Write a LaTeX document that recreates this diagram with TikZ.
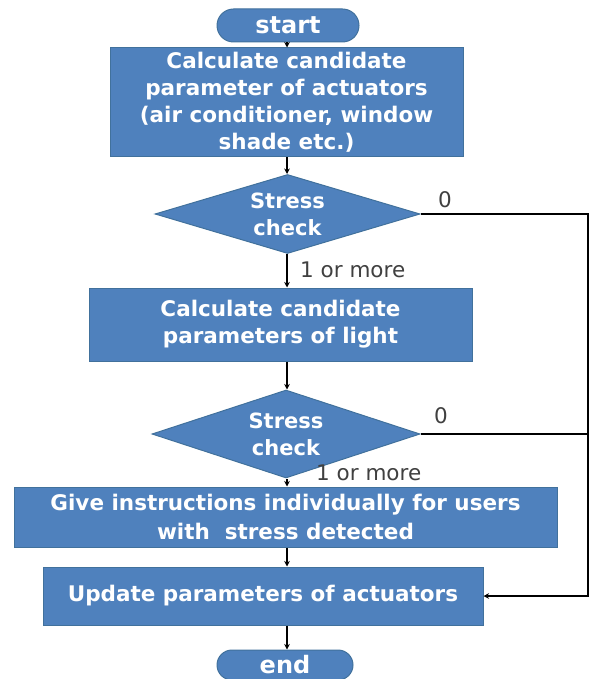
\documentclass[tikz,border=0pt]{standalone}
\usepackage{fontspec}
\setmainfont{DejaVu Sans}
\usetikzlibrary{shapes.geometric,arrows.meta}
\definecolor{boxblue}{HTML}{4F81BD}
\definecolor{boxedge}{HTML}{41719C}
\definecolor{lblgray}{HTML}{404040}
\begin{document}
\begin{tikzpicture}[x=1pt,y=-1pt,
  blk/.style={draw=boxedge,fill=boxblue,line width=1pt,text=white,font=\bfseries\fontsize{21.5}{27}\selectfont,align=center,inner sep=0pt},
  pill/.style={blk,rounded corners=16.5pt,font=\bfseries\fontsize{24}{28}\selectfont},
  dia/.style={blk,diamond,aspect=3,font=\bfseries\fontsize{21}{27}\selectfont},
  lbl/.style={text=lblgray,font=\fontsize{21.5}{24}\selectfont,inner sep=0pt},
  conn/.style={draw=black,line width=1.8pt},
  arr/.style={conn,-{Stealth[length=5.5pt,width=5.5pt]}}]
\useasboundingbox (0,0) rectangle (590,679);
\coordinate (ax) at (287,0);
\coordinate (r) at (588,0);
\node[pill,minimum width=142pt,minimum height=33pt] (start) at (288,25.5) {start};
\node[blk,minimum width=353pt,minimum height=109pt] (b1) at (286.5,102.5) {Calculate candidate\\parameter of actuators\\(air conditioner, window\\shade etc.)};
\node[dia,minimum width=265pt,minimum height=79pt] (d1) at (287.5,214) {Stress\\check};
\node[blk,minimum width=383pt,minimum height=73pt] (b2) at (280.5,324.5) {Calculate candidate\\parameters of light};
\node[dia,minimum width=268pt,minimum height=88pt] (d2) at (286,434) {Stress\\check};
\node[blk,minimum width=543pt,minimum height=60pt,font=\bfseries\fontsize{21.5}{29}\selectfont] (b3) at (285.5,517) {Give instructions individually for users\\with\ \ stress detected};
\node[blk,minimum width=440pt,minimum height=58pt] (b4) at (263,596) {Update parameters of actuators};
\node[pill,minimum width=136pt,minimum height=30pt,rounded corners=15pt] (end) at (285,665) {end};
\node[lbl] (z1) at (445,200) {0};
\node[lbl,anchor=west] (m1) at (300,270) {1 or more};
\node[lbl] (z2) at (441,416) {0};
\node[lbl,anchor=west] (m2) at (316,473) {1 or more};
\draw[arr] (start.south -| ax) -- (b1.north -| ax);
\draw[arr] (b1.south -| ax) -- (d1.north -| ax);
\draw[arr] (d1.south -| ax) -- (b2.north -| ax);
\draw[arr] (b2.south -| ax) -- (d2.north -| ax);
\draw[arr] (d2.south -| ax) -- (b3.north -| ax);
\draw[arr] (b3.south -| ax) -- (b4.north -| ax);
\draw[arr] (b4.south -| ax) -- (end.north -| ax);
\draw[arr] (d1.east) -- (d1.east -| r) |- (b4.east);
\draw[conn] (d2.east) -- (d2.east -| r);
\end{tikzpicture}
\end{document}
